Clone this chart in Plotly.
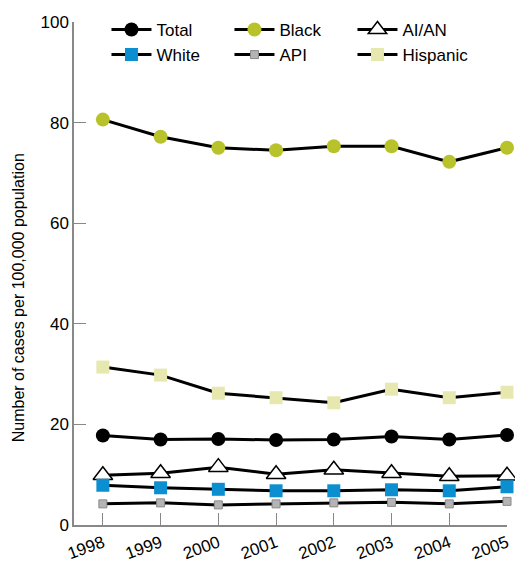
import plotly.graph_objects as go

years = [1998, 1999, 2000, 2001, 2002, 2003, 2004, 2005]
total = [17.8, 17.0, 17.1, 16.9, 17.0, 17.6, 17.0, 17.9]
black = [80.6, 77.2, 75.0, 74.5, 75.3, 75.3, 72.2, 75.0]
aian = [9.9, 10.3, 11.5, 10.1, 11.0, 10.3, 9.7, 9.8]
white = [7.9, 7.4, 7.1, 6.8, 6.8, 7.0, 6.8, 7.6]
api = [4.2, 4.4, 4.0, 4.2, 4.4, 4.5, 4.2, 4.7]
hispanic = [31.4, 29.8, 26.2, 25.3, 24.3, 27.0, 25.3, 26.4]
y_ticks = [0, 20, 40, 60, 80, 100]

FONT = "Liberation Sans, Arial, sans-serif"

series = [
    ("Total", total, dict(symbol="circle", size=14, color="black", line=dict(width=0))),
    ("Black", black, dict(symbol="circle", size=14, color="#b8c22a", line=dict(width=0))),
    ("AI/AN", aian, dict(symbol="triangle-up", size=17, color="white", line=dict(width=1.5, color="black"))),
    ("White", white, dict(symbol="square", size=13, color="#0b8fd0", line=dict(width=0))),
    ("API", api, dict(symbol="square", size=8, color="#b4b4b4", line=dict(width=1, color="#888888"))),
    ("Hispanic", hispanic, dict(symbol="square", size=13, color="#e6e8b0", line=dict(width=0))),
]

fig = go.Figure()
for name, vals, mk in series:
    fig.add_trace(go.Scatter(
        x=years, y=vals, name=name, mode="lines+markers",
        line=dict(color="black", width=3),
        marker=mk, cliponaxis=False,
    ))

fig.update_layout(
    width=515, height=564,
    margin=dict(l=74, r=8, t=22, b=39),
    plot_bgcolor="white", paper_bgcolor="white",
    font=dict(family=FONT, size=17, color="black"),
    showlegend=True,
    legend=dict(
        orientation="h", x=0.075, y=1.02, xanchor="left", yanchor="top",
        entrywidth=68, entrywidthmode="pixels",
        bgcolor="rgba(0,0,0,0)", font=dict(size=17),
        tracegroupgap=0, itemwidth=40,
    ),
    xaxis=dict(
        range=[1997.5, 2005], tickmode="array", tickvals=years,
        ticktext=[str(y) for y in years],
        ticks="inside", ticklen=12, tickcolor="#888888",
        showline=True, linecolor="#888888", linewidth=1.5,
        showgrid=False, zeroline=False, tickangle=-20,
        tickfont=dict(size=17), automargin=False,
    ),
    yaxis=dict(
        range=[0, 100], tickmode="array", tickvals=y_ticks,
        ticks="inside", ticklen=12, tickcolor="#888888",
        showline=True, linecolor="#888888", linewidth=1.5,
        showgrid=False, zeroline=False,
        tickfont=dict(size=17), automargin=False,
    ),
    annotations=[dict(
        text="Number of cases per 100,000 population",
        xref="paper", yref="paper", x=-0.129, y=0.451,
        showarrow=False, textangle=-90, font=dict(size=16),
        xanchor="center", yanchor="middle",
    )],
)

fig.write_html(
    "out.html",
    config={"displayModeBar": False},
    post_script="document.body.style.margin='0';document.body.style.overflow='hidden';",
)
